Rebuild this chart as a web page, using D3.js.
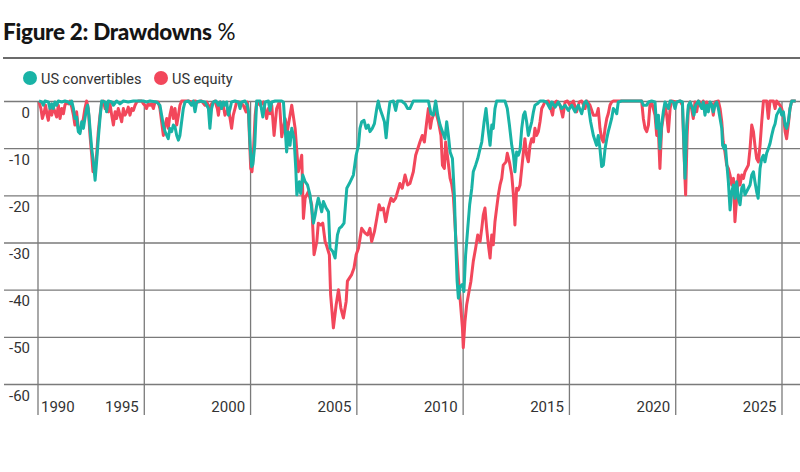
<!DOCTYPE html>
<html>
<head>
<meta charset="utf-8">
<script src="https://cdn.jsdelivr.net/npm/d3@7"></script>
<style>
  body { margin: 0; background: #fff; }
  svg text { font-family: Roboto, "Open Sans", sans-serif; }
</style>
</head>
<body>
<div id="chart"></div>
<script>
// US convertibles drawdown (%), decimal year -> value
const convYears = [
  1990.07, 1990.20, 1990.27, 1990.35, 1990.51, 1990.59, 1990.67, 1990.74, 1990.82, 1990.90, 1990.98, 1991.14, 1991.29, 1991.45, 1991.53, 1991.61, 1991.69, 1991.76, 1991.84, 1991.92,
  1992.00, 1992.08, 1992.16, 1992.23, 1992.31, 1992.36, 1992.42, 1992.47, 1992.55, 1992.63, 1992.71, 1992.78, 1992.86, 1992.94, 1993.02, 1993.18, 1993.25, 1993.33, 1993.49, 1993.57,
  1993.72, 1993.88, 1994.04, 1994.27, 1994.51, 1994.74, 1994.98, 1995.13, 1995.29, 1995.60, 1995.76, 1995.84, 1995.92, 1996.00, 1996.08, 1996.15, 1996.23, 1996.31, 1996.39, 1996.47,
  1996.55, 1996.63, 1996.70, 1996.78, 1996.86, 1996.94, 1997.10, 1997.25, 1997.33, 1997.41, 1997.49, 1997.64, 1997.88, 1998.04, 1998.11, 1998.19, 1998.27, 1998.40, 1998.51, 1998.59,
  1998.66, 1998.74, 1998.82, 1998.90, 1998.98, 1999.06, 1999.13, 1999.29, 1999.45, 1999.53, 1999.60, 1999.76, 1999.87, 1999.93, 2000.00, 2000.07, 2000.13, 2000.22, 2000.31, 2000.47,
  2000.60, 2000.71, 2000.86, 2000.94, 2001.02, 2001.18, 2001.49, 2001.57, 2001.65, 2001.72, 2001.80, 2001.88, 2001.96, 2002.07, 2002.15, 2002.20, 2002.32, 2002.38, 2002.48, 2002.59,
  2002.70, 2002.82, 2002.98, 2003.06, 2003.14, 2003.21, 2003.29, 2003.37, 2003.45, 2003.58, 2003.69, 2003.76, 2003.89, 2004.00, 2004.11, 2004.20, 2004.31, 2004.42, 2004.55, 2004.67,
  2004.86, 2004.99, 2005.10, 2005.17, 2005.25, 2005.36, 2005.46, 2005.56, 2005.64, 2005.75, 2005.85, 2005.96, 2006.03, 2006.11, 2006.22, 2006.32, 2006.40, 2006.50, 2006.58, 2006.74,
  2006.85, 2006.94, 2007.13, 2007.29, 2007.41, 2007.52, 2007.68, 2008.39, 2008.51, 2008.62, 2008.73, 2008.83, 2008.94, 2009.05, 2009.17, 2009.25, 2009.33, 2009.41, 2009.52, 2009.61,
  2009.67, 2009.74, 2009.80, 2009.88, 2009.99, 2010.06, 2010.14, 2010.24, 2010.33, 2010.43, 2010.50, 2010.61, 2010.71, 2010.82, 2010.90, 2011.01, 2011.10, 2011.21, 2011.29, 2011.37,
  2011.44, 2011.52, 2011.60, 2011.99, 2012.10, 2012.20, 2012.31, 2012.39, 2012.46, 2012.54, 2012.62, 2012.70, 2012.78, 2012.86, 2012.93, 2013.01, 2013.09, 2013.17, 2013.25, 2013.33,
  2013.40, 2013.51, 2013.64, 2013.80, 2013.95, 2014.11, 2014.19, 2014.35, 2014.50, 2014.66, 2014.82, 2014.97, 2015.13, 2015.29, 2015.44, 2015.60, 2015.71, 2015.80, 2015.91, 2016.02,
  2016.15, 2016.30, 2016.38, 2016.46, 2016.54, 2016.62, 2016.70, 2016.78, 2016.85, 2016.93, 2017.01, 2017.09, 2017.17, 2017.25, 2017.32, 2017.48, 2018.42, 2018.50, 2018.66, 2018.74,
  2018.89, 2019.05, 2019.13, 2019.21, 2019.28, 2019.36, 2019.44, 2019.52, 2019.68, 2019.76, 2019.91, 2019.99, 2020.07, 2020.23, 2020.34, 2020.40, 2020.46, 2020.54, 2020.62, 2020.70,
  2020.81, 2020.88, 2020.96, 2021.09, 2021.17, 2021.25, 2021.32, 2021.40, 2021.48, 2021.56, 2021.64, 2021.72, 2021.79, 2021.87, 2021.95, 2022.03, 2022.11, 2022.19, 2022.23, 2022.30,
  2022.36, 2022.42, 2022.50, 2022.58, 2022.66, 2022.74, 2022.81, 2022.89, 2022.97, 2023.05, 2023.13, 2023.21, 2023.28, 2023.36, 2023.44, 2023.52, 2023.60, 2023.68, 2023.75, 2023.83,
  2023.90, 2023.99, 2024.07, 2024.15, 2024.22, 2024.30, 2024.38, 2024.46, 2024.54, 2024.62, 2024.70, 2024.77, 2024.85, 2024.93, 2025.01, 2025.09, 2025.17, 2025.24, 2025.32, 2025.40,
  2025.48, 2025.67
];
const convValues = [
  0, -0.2, -0.9, 0, -0.2, -1.6, -0.6, -1.6, -0.2, -0.9, 0, -0.2, 0, -0.2, -0.6, 0, -1.6, -3.7, -3.4, -6.5,
  -6.9, -4.4, -5.8, -3.7, -1.6, -0.9, -3.0, -5.8, -10.1, -12.9, -16.8, -12.9, -8.0, -3.7, 0, -0.2, -2.3, 0, -0.2, -0.9,
  0, -0.6, 0, -0.2, 0, 0, 0, -0.2, 0, -0.2, -0.9, -3.0, -5.1, -6.5, -7.3, -8.0, -5.8, -6.5, -5.1, -5.5,
  -7.3, -8.3, -7.3, -4.4, -1.6, -0.2, 0, -0.9, 0, -2.3, -0.2, 0, -0.2, -1.6, -5.8, -1.6, -0.2, 0, -0.9, -0.2,
  -1.6, -0.2, -0.9, -0.2, -3.0, -1.6, -0.2, 0, -0.2, -1.6, -0.2, 0, -0.9, -2.3, -9.4, -13.9, -13.5, -9.4, 0, 0,
  -3.4, -0.2, 0, -2.0, -0.2, 0, 0, -0.2, -5.8, -10.8, -6.5, -9.4, -5.8, -8.0, -14.3, -19.9, -17.1, -19.6, -15.7, -17.1,
  -17.8, -19.9, -25.9, -24.2, -22.0, -20.6, -22.0, -23.5, -21.3, -22.7, -23.5, -31.2, -31.9, -33.3, -28.4, -27.0, -26.6, -25.9, -18.5, -17.5,
  -15.7, -11.5, -9.4, -5.8, -4.4, -4.1, -5.8, -5.1, -6.5, -5.8, -4.8, -1.6, 0, -1.6, -3.0, -4.4, -7.8, -3.0, -0.2, 0,
  -2.0, 0, 0, -0.6, -1.6, -1.6, 0, 0, -2.7, -3.0, 0, -3.0, -5.1, -6.5, -8.0, -4.4, -7.3, -10.8, -12.2, -19.9,
  -29.1, -38.2, -41.8, -39.3, -38.9, -40.4, -32.6, -27.0, -22.0, -18.5, -15.0, -13.6, -12.2, -10.1, -8.7, -4.4, -1.6, -6.5, -9.4, -5.1,
  -5.8, -1.6, 0, 0, -1.6, -5.1, -9.4, -11.5, -15.0, -10.8, -11.5, -10.4, -5.8, -3.0, -2.3, -4.4, -7.3, -5.8, -4.4, -2.3,
  -0.9, -0.6, 0, 0, -0.2, -1.6, -0.2, -1.3, -0.2, -1.6, -0.9, -2.0, -0.9, -2.3, -0.9, -2.7, -0.6, 0, -0.9, -4.4,
  -7.3, -9.4, -7.3, -10.1, -13.9, -13.6, -10.1, -8.0, -6.5, -5.1, -3.7, -1.6, -2.0, -2.7, -0.2, 0, 0, -0.9, -0.9, -0.2,
  0, -0.2, -5.8, -3.0, -10.1, -5.1, -2.3, -0.2, -1.6, 0, -0.2, -1.6, -0.2, 0, -0.2, -8.0, -16.4, -5.1, -0.9, -0.2,
  -1.6, -3.0, -0.9, 0, -0.9, -1.6, -0.2, -3.0, -0.9, -2.3, -0.2, -0.9, -2.3, -0.9, -0.2, -1.6, -3.7, -5.8, -9.4, -10.1,
  -9.4, -12.9, -17.1, -23.1, -19.2, -17.8, -20.6, -17.1, -20.6, -22.0, -18.5, -17.8, -19.9, -19.2, -18.5, -17.8, -15.7, -15.0, -17.1, -19.2,
  -20.6, -14.3, -12.2, -11.5, -12.9, -11.1, -10.1, -9.0, -7.3, -5.8, -4.8, -3.0, -2.3, -1.6, -3.0, -2.3, -5.1, -5.8, -4.4, -1.6,
  0, 0
];

// US equity drawdown (%), decimal year -> value
const eqYears = [
  1990.07, 1990.16, 1990.23, 1990.32, 1990.38, 1990.45, 1990.51, 1990.59, 1990.67, 1990.74, 1990.82, 1990.90, 1990.98, 1991.06, 1991.14, 1991.22, 1991.29, 1991.37, 1991.45, 1991.53,
  1991.61, 1991.69, 1991.76, 1991.84, 1991.92, 1992.00, 1992.08, 1992.16, 1992.23, 1992.31, 1992.39, 1992.47, 1992.55, 1992.61, 1992.71, 1992.78, 1992.86, 1992.94, 1993.02, 1993.10,
  1993.18, 1993.25, 1993.33, 1993.41, 1993.49, 1993.57, 1993.65, 1993.72, 1993.80, 1993.88, 1993.96, 1994.04, 1994.12, 1994.20, 1994.27, 1994.35, 1994.43, 1994.51, 1994.59, 1994.67,
  1994.74, 1994.90, 1994.98, 1995.06, 1995.13, 1995.21, 1995.29, 1995.37, 1995.45, 1995.53, 1995.68, 1995.76, 1995.84, 1995.92, 1996.00, 1996.08, 1996.15, 1996.23, 1996.31, 1996.39,
  1996.47, 1996.55, 1996.63, 1996.70, 1996.78, 1997.10, 1997.25, 1997.41, 1997.57, 1997.72, 1997.88, 1997.96, 1998.11, 1998.19, 1998.35, 1998.46, 1998.51, 1998.59, 1998.66, 1998.74,
  1998.82, 1998.90, 1998.98, 1999.06, 1999.13, 1999.21, 1999.29, 1999.37, 1999.53, 1999.68, 1999.81, 1999.87, 1999.93, 2000.03, 2000.09, 2000.15, 2000.24, 2000.31, 2000.47, 2000.63,
  2000.78, 2000.86, 2000.94, 2001.02, 2001.13, 2001.25, 2001.38, 2001.49, 2001.65, 2001.76, 2001.88, 2001.96, 2002.12, 2002.27, 2002.43, 2002.51, 2002.59, 2002.74, 2002.90, 2003.01,
  2003.14, 2003.21, 2003.32, 2003.42, 2003.53, 2003.61, 2003.73, 2003.79, 2003.92, 2004.05, 2004.16, 2004.27, 2004.39, 2004.52, 2004.58, 2004.78, 2004.89, 2004.99, 2005.10, 2005.25,
  2005.41, 2005.53, 2005.64, 2005.72, 2005.85, 2005.96, 2006.07, 2006.16, 2006.27, 2006.38, 2006.50, 2006.63, 2006.74, 2006.85, 2006.94, 2007.05, 2007.16, 2007.29, 2007.41, 2007.52,
  2007.68, 2007.79, 2007.92, 2007.99, 2008.10, 2008.20, 2008.31, 2008.39, 2008.48, 2008.54, 2008.62, 2008.70, 2008.78, 2008.86, 2008.98, 2009.05, 2009.14, 2009.20, 2009.30, 2009.41,
  2009.48, 2009.56, 2009.67, 2009.80, 2009.89, 2009.99, 2010.03, 2010.11, 2010.19, 2010.30, 2010.39, 2010.50, 2010.61, 2010.71, 2010.82, 2010.90, 2010.97, 2011.05, 2011.13, 2011.21,
  2011.29, 2011.37, 2011.44, 2011.52, 2011.60, 2011.68, 2011.76, 2011.84, 2011.91, 2012.04, 2012.10, 2012.20, 2012.31, 2012.39, 2012.46, 2012.54, 2012.62, 2012.70, 2012.78, 2012.86,
  2012.93, 2013.01, 2013.09, 2013.17, 2013.25, 2013.33, 2013.40, 2013.48, 2013.56, 2013.64, 2013.72, 2013.80, 2013.87, 2014.03, 2014.14, 2014.23, 2014.30, 2014.42, 2014.58, 2014.71,
  2014.82, 2014.93, 2015.05, 2015.21, 2015.36, 2015.49, 2015.60, 2015.76, 2015.84, 2015.99, 2016.15, 2016.30, 2016.38, 2016.46, 2016.54, 2016.62, 2016.70, 2016.78, 2016.85, 2016.93,
  2017.01, 2017.09, 2018.42, 2018.50, 2018.58, 2018.66, 2018.74, 2018.81, 2018.89, 2019.05, 2019.13, 2019.21, 2019.28, 2019.36, 2019.52, 2019.60, 2019.68, 2019.76, 2019.83, 2020.07,
  2020.23, 2020.34, 2020.43, 2020.49, 2020.56, 2020.62, 2020.70, 2020.77, 2020.85, 2020.93, 2021.01, 2021.09, 2021.17, 2021.25, 2021.32, 2021.40, 2021.48, 2021.56, 2021.72, 2021.79,
  2021.87, 2022.03, 2022.11, 2022.19, 2022.26, 2022.34, 2022.42, 2022.50, 2022.58, 2022.66, 2022.74, 2022.81, 2022.89, 2022.97, 2023.05, 2023.13, 2023.21, 2023.28, 2023.36, 2023.44,
  2023.52, 2023.60, 2023.68, 2023.75, 2023.83, 2023.91, 2023.99, 2024.07, 2024.15, 2024.30, 2024.38, 2024.46, 2024.62, 2024.70, 2024.77, 2024.93, 2025.01, 2025.09, 2025.17, 2025.24,
  2025.32, 2025.40, 2025.48, 2025.67
];
const eqValues = [
  -0.2, -1.6, -3.7, -2.3, -0.9, -3.0, -4.1, -1.6, -3.0, -1.3, -2.3, -3.4, -0.9, -3.7, -1.6, -2.7, -0.9, -0.2, -0.6, 0,
  -1.3, -3.0, -5.1, -2.3, -5.8, -6.5, -5.1, -3.7, -1.6, 0, -1.6, -7.3, -11.5, -15.0, -14.3, -11.5, -6.5, -3.0, -0.2, 0,
  -1.6, -0.9, -2.3, -0.6, -3.0, -5.1, -2.3, -3.7, -1.6, -3.0, -4.4, -1.6, -3.0, -2.3, -1.3, -3.0, -1.6, -2.0, -0.9, -0.2,
  0, 0, -0.6, -0.9, -1.6, -0.6, -0.9, -0.6, -1.6, -0.2, -0.2, -1.6, -4.4, -7.3, -5.1, -3.7, -5.8, -3.0, -1.3, -3.7,
  -1.6, -5.1, -3.0, -0.9, 0, 0, -0.2, 0, -0.2, 0, -0.9, -0.2, -1.6, -0.6, 0, -1.6, -3.0, -0.2, -1.6, -0.9,
  -3.0, -2.3, -1.6, -3.7, -5.8, -3.0, -1.6, -0.2, -0.2, -0.9, -2.3, -0.2, -3.0, -14.3, -15.0, -11.5, -3.0, -0.2, -0.9, -0.2,
  -3.7, -1.6, -2.7, -0.9, -7.3, -1.6, -0.2, -7.6, -3.7, -6.2, -3.0, -0.9, -5.8, -15.0, -11.5, -24.9, -20.6, -19.2, -22.0, -32.6,
  -29.8, -25.9, -26.3, -25.9, -29.8, -30.8, -32.6, -41.1, -48.1, -43.2, -40.0, -43.9, -46.0, -42.5, -38.2, -36.8, -35.4, -32.6, -31.2, -27.0,
  -28.0, -28.4, -27.0, -29.8, -27.7, -24.9, -22.0, -23.1, -22.7, -25.6, -22.7, -20.6, -21.3, -20.6, -19.2, -17.5, -18.5, -15.7, -17.8, -17.5,
  -15.0, -11.5, -9.7, -8.7, -7.3, -8.7, -4.4, -1.6, -5.8, -4.1, -3.0, -2.0, -3.0, -4.4, -7.3, -13.6, -14.3, -8.7, -12.2, -16.4,
  -17.5, -19.9, -28.4, -37.5, -42.5, -48.1, -52.3, -46.7, -43.2, -40.4, -38.2, -34.0, -31.2, -28.4, -29.8, -27.0, -24.2, -22.7, -27.0, -30.5,
  -33.3, -28.4, -30.5, -25.6, -22.7, -19.9, -17.8, -16.4, -13.6, -12.9, -11.1, -12.9, -15.7, -19.9, -26.3, -18.5, -18.9, -17.8, -14.3, -10.8,
  -8.0, -11.5, -12.9, -9.4, -8.0, -8.7, -5.8, -7.3, -6.5, -4.4, -1.6, -0.9, -0.2, 0, -1.6, -3.0, -0.6, 0, -0.9, -3.4,
  -0.2, 0, -0.9, 0, -2.3, -0.2, 0, -1.6, 0, -0.9, -3.0, -3.0, -1.6, -5.8, -8.0, -8.7, -5.8, -3.7, -2.7, -0.9,
  -0.2, 0, 0, -3.7, -5.8, -6.5, -5.1, -0.9, -0.2, -3.0, -7.3, -6.5, -14.3, -5.8, -0.9, -3.0, -6.5, -1.6, 0, -0.2,
  0, -0.9, -12.9, -19.9, -7.3, -1.6, -0.2, -1.6, -3.7, -0.2, -2.3, 0, -0.2, -0.9, 0, -1.6, -0.2, -0.9, -0.6, -3.0,
  -0.2, 0, -1.6, -4.4, -8.7, -10.8, -13.6, -14.3, -15.7, -17.8, -16.4, -25.6, -20.6, -15.7, -17.8, -15.7, -16.4, -15.0, -14.3, -13.6,
  -10.1, -5.1, -6.5, -9.4, -12.2, -12.9, -9.4, -4.4, 0, 0, -3.7, 0, 0, -1.6, 0, -0.9, -1.6, -3.0, -6.5, -8.0,
  -5.1, -1.6, 0, 0
];

const seriesNames = ["US convertibles", "US equity"];
const seriesColors = ["#19b3a6", "#f2475b"];
const yTicks = [0, -10, -20, -30, -40, -50, -60];
const xTicks = [1990, 1995, 2000, 2005, 2010, 2015, 2020, 2025];

function renderDrawdownChart() {
    const width = 800;
    const height = 472;

    const x = d3.scaleLinear().domain([1990, 2025]).range([37.5, 781.5]);
    const y = d3.scaleLinear().domain([-60, 0]).range([384, 101]);

    const svg = d3
        .select("#chart")
        .append("svg")
        .attr("width", width)
        .attr("height", height);

    // title
    const title = svg.append("text")
        .attr("x", 3)
        .attr("y", 40)
        .style("font-family", "Lato, Roboto, sans-serif")
        .style("font-size", "22.5px")
        .style("fill", "#151515");
    title.append("tspan").style("font-weight", 900).style("letter-spacing", "-0.3px").text("Figure 2: Drawdowns");
    title.append("tspan").style("font-weight", "normal").text(" %");

    svg.append("line")
        .attr("x1", 3).attr("x2", width)
        .attr("y1", 58).attr("y2", 58)
        .style("stroke", "#3a3a3a")
        .style("stroke-width", 1.6);

    // legend
    const legend = svg.selectAll(".legend")
        .data(seriesNames)
        .enter()
        .append("g")
        .attr("class", "legend")
        .attr("transform", (d, i) => `translate(${i === 0 ? 30 : 161},78)`);
    legend.append("circle").attr("r", 7).style("fill", (d, i) => seriesColors[i]);
    legend.append("text")
        .attr("x", 11)
        .attr("y", 5.5)
        .style("font-size", "14.5px")
        .style("fill", "#333")
        .text((d) => d);

    // horizontal grid + y labels
    const yAxis = svg.append("g")
        .attr("transform", "translate(4,0)")
        .call(d3.axisRight(y).tickValues(yTicks).tickSize(width - 4).tickFormat((d) => String(d)));
    yAxis.select(".domain").remove();
    yAxis.selectAll("line").style("stroke", "#7a7a7a").style("stroke-width", 1.3);
    yAxis.selectAll("text")
        .attr("x", 26)
        .attr("dy", 16)
        .attr("text-anchor", "end")
        .style("font-size", "15px")
        .style("font-family", "Roboto, sans-serif")
        .style("fill", "#333");

    // vertical grid + x labels
    const xAxis = svg.append("g")
        .attr("transform", "translate(0,101)")
        .call(d3.axisBottom(x).tickValues(xTicks).tickSize(314).tickFormat((d) => String(d)));
    xAxis.select(".domain").remove();
    xAxis.selectAll("line").style("stroke", "#7a7a7a").style("stroke-width", 1.3);
    xAxis.selectAll("text")
        .attr("y", 311)
        .attr("dy", 0)
        .attr("x", (d) => (d === 1990 ? 3 : -5.5))
        .attr("text-anchor", (d) => (d === 1990 ? "start" : "end"))
        .style("font-size", "15px")
        .style("font-family", "Roboto, sans-serif")
        .style("fill", "#333");

    const line = d3.line()
        .x((d) => x(d[0]))
        .y((d) => y(d[1]));

    // equity underneath, convertibles on top
    const series = [d3.zip(eqYears, eqValues), d3.zip(convYears, convValues)];
    const colors = [seriesColors[1], seriesColors[0]];

    svg.selectAll(".series")
        .data(series)
        .enter()
        .append("path")
        .attr("class", "series")
        .attr("d", line)
        .style("fill", "none")
        .style("stroke", (d, i) => colors[i])
        .style("stroke-width", 3)
        .style("stroke-linejoin", "round");
}

renderDrawdownChart();
</script>
</body>
</html>
